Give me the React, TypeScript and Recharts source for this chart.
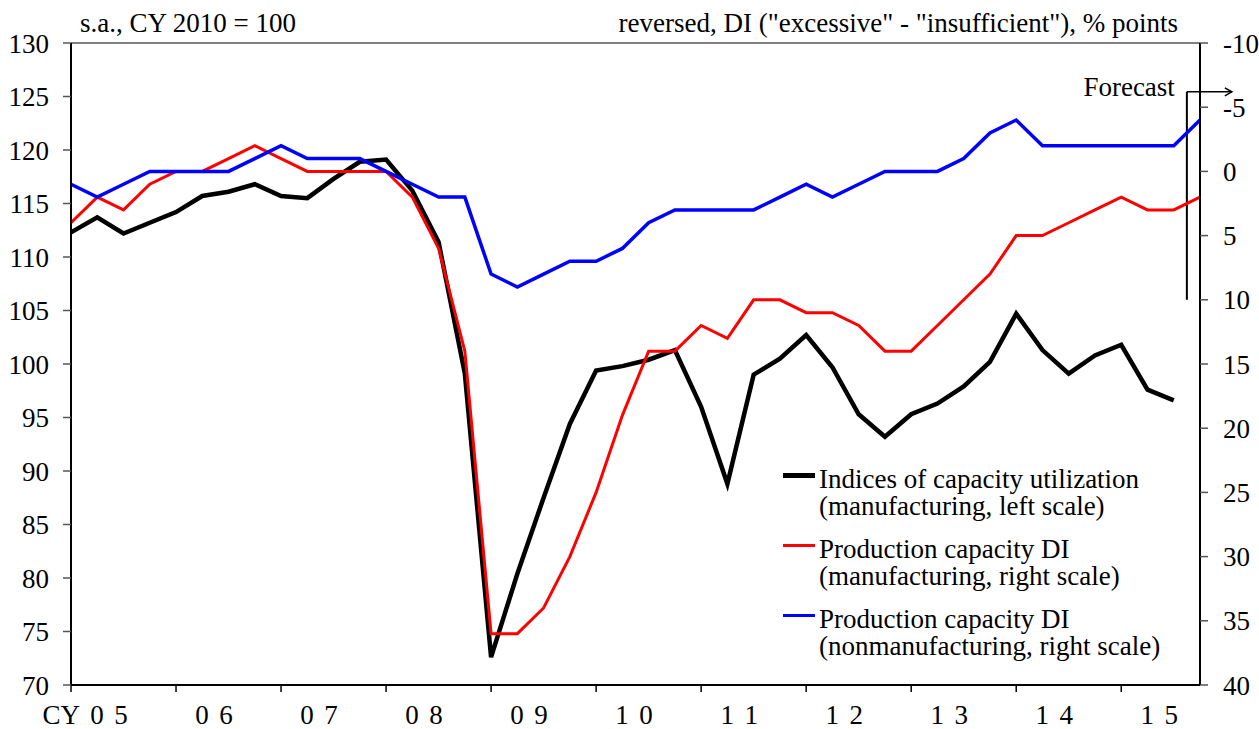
import { LineChart, Line, XAxis, YAxis, ReferenceLine, Legend } from "recharts"

const FONT = '"Liberation Serif", "Times New Roman", Times, serif'

// quarterly, CY2005 Q1 .. CY2015 Q4
const years = ["05", "06", "07", "08", "09", "10", "11", "12", "13", "14", "15"]
const quarters = years.flatMap((y) => ["Q1", "Q2", "Q3", "Q4"].map((q) => `${y}${q}`))

// Indices of capacity utilization (manufacturing), CY2010 = 100, left scale
const utilization = [
    112.3, 113.7, 112.2, 113.2, 114.2, 115.7, 116.1, 116.8, 115.7, 115.5, 117.3,
    118.9, 119.1, 116.2, 111.4, 99.1, 72.6, 80.4, 87.5, 94.4, 99.4, 99.8, 100.4,
    101.3, 96.0, 88.8, 99.0, 100.5, 102.7, 99.7, 95.3, 93.2, 95.3, 96.3, 97.9,
    100.2, 104.7, 101.3, 99.1, 100.8, 101.8, 97.6, 96.6,
]

// Production capacity DI, % points, right scale (last value = forecast)
const capacityMfg = [
    4, 2, 3, 1, 0, 0, -1, -2, -1, 0, 0, 0, 0, 2, 6, 14, 36, 36, 34, 30, 25, 19,
    14, 14, 12, 13, 10, 10, 11, 11, 12, 14, 14, 12, 10, 8, 5, 5, 4, 3, 2, 3, 3, 2,
]
const capacityNonMfg = [
    1, 2, 1, 0, 0, 0, 0, -1, -2, -1, -1, -1, 0, 1, 2, 2, 8, 9, 8, 7, 7, 6, 4, 3,
    3, 3, 3, 2, 1, 2, 1, 0, 0, 0, -1, -3, -4, -2, -2, -2, -2, -2, -2, -4,
]

const leftTicks = [70, 75, 80, 85, 90, 95, 100, 105, 110, 115, 120, 125, 130]
const rightTicks = [-10, -5, 0, 5, 10, 15, 20, 25, 30, 35, 40]

// forecast marker sits between 15Q3 and 15Q4, spans -6.2 .. 10 on the right scale
const forecastX = 42.5
const forecastRange = [-6.2, 10]

const chartData = quarters.map((q, i) => ({
    idx: i,
    quarter: q,
    util: utilization[i] ?? null,
    mfg: capacityMfg[i],
    nonmfg: capacityNonMfg[i],
}))

const yearTicks = chartData.filter((d) => d.quarter.endsWith("Q1")).map((d) => d.idx)

const YearTick = ({ x, y, payload }: { x?: number; y?: number; payload?: { value: number } }) => {
    if (x == null || y == null || !payload) return null
    const yy = quarters[payload.value].slice(0, 2)
    const base = y + 30
    const style = { fontFamily: FONT, fontSize: 27, fill: "#000" }
    return (
        <g>
            {payload.value === 0 && (
                <text x={x + 9} y={base} textAnchor="end" style={style}>
                    CY
                </text>
            )}
            <text x={x + 26} y={base} textAnchor="middle" style={style}>
                {yy[0]}
            </text>
            <text x={x + 50} y={base} textAnchor="middle" style={style}>
                {yy[1]}
            </text>
        </g>
    )
}

const ForecastMarker = (props: { x1?: number; y1?: number; x2?: number; y2?: number }) => {
    const { x1 = 0, y1 = 0, y2 = 0 } = props
    const top = Math.min(y1, y2)
    const bottom = Math.max(y1, y2)
    return (
        <g>
            <line x1={x1} y1={top} x2={x1} y2={bottom} stroke="#000" strokeWidth={2} />
            <line x1={x1} y1={top} x2={x1 + 45} y2={top} stroke="#000" strokeWidth={1.5} />
            <path
                d={`M${x1 + 38},${top - 4} L${x1 + 45},${top} L${x1 + 38},${top + 4}`}
                fill="none"
                stroke="#000"
                strokeWidth={1.5}
            />
            <text x={x1 - 12} y={top + 4} textAnchor="end" style={{ fontFamily: FONT, fontSize: 27, fill: "#000" }}>
                Forecast
            </text>
        </g>
    )
}

const LegendContent = ({ payload }: { payload?: { value: string; color: string; dataKey: string }[] }) => (
    <div style={{ fontFamily: FONT, fontSize: 27, lineHeight: "27px", color: "#000" }}>
        {(payload ?? []).map((entry) => (
            <div key={entry.dataKey} style={{ display: "flex", alignItems: "flex-start", height: 70 }}>
                <div
                    style={{
                        width: 32,
                        height: entry.dataKey === "util" ? 5 : 3,
                        background: entry.color,
                        marginTop: entry.dataKey === "util" ? 7 : 8,
                        marginRight: 4,
                        flexShrink: 0,
                    }}
                />
                <div style={{ whiteSpace: "pre" }}>{entry.value}</div>
            </div>
        ))}
    </div>
)

const App = () => {
    const tickStyle = { fontSize: 27, fill: "#000", fontFamily: FONT }
    return (
        <div style={{ position: "absolute", left: 0, top: 0, width: 1259, height: 729, background: "#fff" }}>
            <svg width={1259} height={43} style={{ position: "absolute", left: 0, top: 0 }}>
                <text x={80} y={32} style={{ fontFamily: FONT, fontSize: 27, fill: "#000" }}>
                    s.a., CY 2010 = 100
                </text>
                <text x={1178} y={32} textAnchor="end" style={{ fontFamily: FONT, fontSize: 27, fill: "#000" }}>
                    reversed, DI ("excessive" - "insufficient"), % points
                </text>
            </svg>
            <LineChart width={1259} height={729} data={chartData} margin={{ top: 43, right: 0, bottom: 0, left: 0 }}>
                <XAxis
                    dataKey="idx"
                    type="number"
                    domain={[0, quarters.length - 1]}
                    ticks={yearTicks}
                    interval={0}
                    height={44}
                    tickSize={7}
                    axisLine={{ stroke: "#000", strokeWidth: 2 }}
                    tickLine={{ stroke: "#000", strokeWidth: 1.5 }}
                    tick={<YearTick />}
                />
                <YAxis
                    yAxisId="left"
                    domain={[70, 130]}
                    ticks={leftTicks}
                    interval={0}
                    width={71}
                    tickSize={8}
                    tickMargin={14}
                    axisLine={{ stroke: "#000", strokeWidth: 2 }}
                    tickLine={{ stroke: "#555", strokeWidth: 1.5 }}
                    tick={tickStyle}
                />
                <YAxis
                    yAxisId="right"
                    orientation="right"
                    reversed
                    domain={[-10, 40]}
                    ticks={rightTicks}
                    interval={0}
                    width={59}
                    tickSize={8}
                    tickMargin={15}
                    axisLine={{ stroke: "#000", strokeWidth: 2 }}
                    tickLine={{ stroke: "#555", strokeWidth: 1.5 }}
                    tick={tickStyle}
                />
                <ReferenceLine yAxisId="left" y={130} stroke="#808080" strokeWidth={2} />
                <ReferenceLine
                    yAxisId="right"
                    segment={[
                        { x: forecastX, y: forecastRange[0] },
                        { x: forecastX, y: forecastRange[1] },
                    ]}
                    shape={ForecastMarker}
                />
                <Line
                    yAxisId="left"
                    dataKey="util"
                    name={"Indices of capacity utilization\n(manufacturing, left scale)"}
                    type="linear"
                    stroke="#000"
                    strokeWidth={4.5}
                    dot={false}
                    isAnimationActive={false}
                />
                <Line
                    yAxisId="right"
                    dataKey="mfg"
                    name={"Production capacity DI\n(manufacturing, right scale)"}
                    type="linear"
                    stroke="#FF0000"
                    strokeWidth={3}
                    dot={false}
                    isAnimationActive={false}
                />
                <Line
                    yAxisId="right"
                    dataKey="nonmfg"
                    name={"Production capacity DI\n(nonmanufacturing, right scale)"}
                    type="linear"
                    stroke="#0000FF"
                    strokeWidth={3.5}
                    dot={false}
                    isAnimationActive={false}
                />
                <Legend
                    layout="vertical"
                    align="center"
                    verticalAlign="middle"
                    wrapperStyle={{ left: 783, top: 466, width: 440 }}
                    content={<LegendContent />}
                />
            </LineChart>
        </div>
    )
}

export default App
